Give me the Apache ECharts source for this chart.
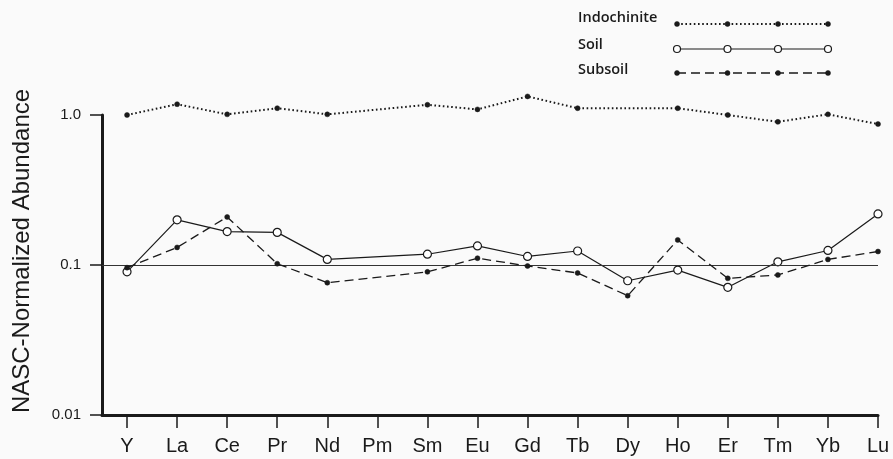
<!DOCTYPE html>
<html>
<head>
<meta charset="utf-8">
<script src="https://cdn.jsdelivr.net/npm/echarts@6/dist/echarts.min.js"></script>
<style>
  html, body { margin: 0; padding: 0; background: #fafafa; }
  #chart { width: 893px; height: 459px; }
</style>
</head>
<body>
<div id="chart"></div>
<script>
// Rare-earth element order along the x axis
const elements = ['Y', 'La', 'Ce', 'Pr', 'Nd', 'Pm', 'Sm', 'Eu', 'Gd', 'Tb', 'Dy', 'Ho', 'Er', 'Tm', 'Yb', 'Lu'];

// NASC-normalized abundances (null = not determined)
const indochinite = [1.00, 1.18, 1.01, 1.11, 1.01, null, 1.17, 1.09, 1.33, 1.11, null, 1.11, 1.00, 0.90, 1.01, 0.87];
const soil        = [0.090, 0.200, 0.167, 0.165, 0.109, null, 0.118, 0.134, 0.114, 0.124, 0.0785, 0.0925, 0.071, 0.105, 0.125, 0.219];
const subsoil     = [0.096, 0.131, 0.209, 0.102, 0.0762, null, 0.090, 0.111, 0.0985, 0.0885, 0.0624, 0.147, 0.0815, 0.0858, 0.109, 0.123];

const seriesNames = ['Indochinite', 'Soil', 'Subsoil'];
const yTitle = 'NASC-Normalized Abundance';

const toPairs = arr => arr.map((v, i) => [i, v]).filter(p => p[1] !== null);

const ink = '#1a1a1a';
const legendFont = '"Open Sans", "DejaVu Sans", sans-serif';
const axisFont = '"Liberation Sans", Arial, sans-serif';

const styles = [
  { line: { type: [1.6, 2.6], width: 2 }, symbol: 'circle', size: 5, fill: ink },
  { line: { type: 'solid', width: 1.2 }, symbol: 'circle', size: 8, fill: '#ffffff' },
  { line: { type: [9, 5], width: 1.3 }, symbol: 'circle', size: 5, fill: ink }
];

// Legend rows: name on the left, a sample line with four markers on the right
const graphics = [];
const textRows = [18, 45, 70];
const lineRows = [24, 49, 73];
seriesNames.forEach((name, k) => {
  graphics.push({
    type: 'text', x: 578, y: textRows[k],
    style: { text: name, fill: ink, font: '600 14.5px ' + legendFont, verticalAlign: 'middle', align: 'left' }
  });
  const st = styles[k];
  const yLine = lineRows[k];
  graphics.push({
    type: 'polyline',
    shape: { points: [[677, yLine], [828, yLine]] },
    style: {
      stroke: ink, lineWidth: st.line.width,
      lineDash: Array.isArray(st.line.type) ? st.line.type : null, fill: null
    }
  });
  [677, 727.5, 778, 828].forEach(x => {
    graphics.push({
      type: 'circle',
      shape: { cx: x, cy: yLine, r: k === 1 ? 3.5 : 2.5 },
      style: { fill: st.fill, stroke: ink, lineWidth: k === 1 ? 1.2 : 0.5 },
      z: 10
    });
  });
});

// Vertical axis title
graphics.push({
  type: 'text', x: 22, y: 251, rotation: Math.PI / 2,
  style: { text: yTitle, fill: ink, font: '24px ' + axisFont, align: 'center', verticalAlign: 'middle' }
});

const chart = echarts.init(document.getElementById('chart'), null, { renderer: 'canvas' });

const seriesData = [indochinite, soil, subsoil];

chart.setOption({
  backgroundColor: '#fafafa',
  animation: false,
  grid: { left: 102, right: 15, top: 115, bottom: 44 },
  xAxis: {
    type: 'value',
    min: -0.5,
    max: 15,
    axisLine: { show: true, onZero: false, lineStyle: { color: ink, width: 3 } },
    axisTick: {
      show: true, length: 13, inside: false,
      customValues: elements.map((_, i) => i),
      lineStyle: { color: ink, width: 1.5 }
    },
    axisLabel: {
      customValues: elements.map((_, i) => i),
      formatter: v => elements[Math.round(v)],
      color: ink, fontSize: 20, fontFamily: axisFont, margin: 21
    },
    splitLine: { show: false }
  },
  yAxis: {
    type: 'log',
    logBase: 10,
    min: 0.01,
    max: 1,
    axisLine: { show: true, onZero: false, lineStyle: { color: ink, width: 3 } },
    axisTick: {
      show: true, length: 12, inside: false,
      lineStyle: { color: ink, width: 1.5 }
    },
    axisLabel: {
      color: ink, fontSize: 15, fontFamily: axisFont, margin: 21,
      formatter: v => (Math.abs(v - 1) < 1e-9 ? '1.0' : String(+v.toPrecision(2)))
    },
    splitLine: { show: false },
    minorTick: { show: false }
  },
  graphic: graphics,
  series: seriesData.map((arr, k) => {
    const st = styles[k];
    const s = {
      name: seriesNames[k],
      type: 'line',
      data: toPairs(arr),
      clip: false,
      symbol: st.symbol,
      symbolSize: st.size,
      showAllSymbol: true,
      lineStyle: { color: ink, width: st.line.width, type: st.line.type },
      itemStyle: { color: st.fill, borderColor: ink, borderWidth: k === 1 ? 1.2 : 0.5 },
      z: 3 + k
    };
    if (k === 0) {
      // reference level at 0.1
      s.markLine = {
        silent: true,
        symbol: 'none',
        label: { show: false },
        lineStyle: { color: '#333', width: 1, type: 'solid' },
        data: [{ yAxis: 0.1 }]
      };
    }
    return s;
  })
});
</script>
</body>
</html>
